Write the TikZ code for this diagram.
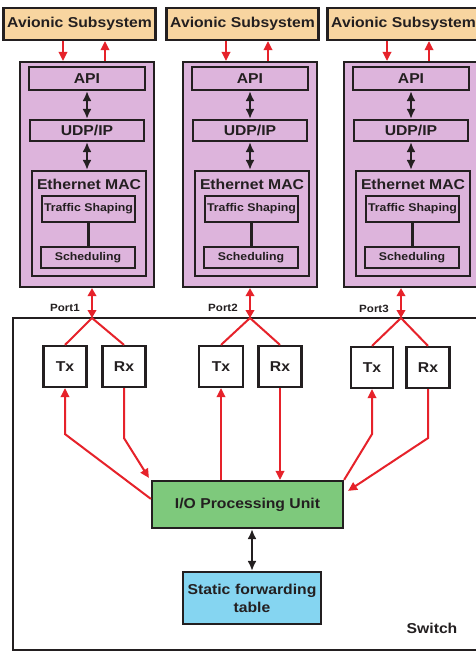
\documentclass[tikz,border=0pt]{standalone}
\usepackage{fontspec}
\setmainfont{Liberation Sans}[FakeStretch=1.1]
\usetikzlibrary{arrows.meta,calc}
\definecolor{avi}{HTML}{F8D5A0}
\definecolor{pur}{HTML}{DDB4DC}
\definecolor{grn}{HTML}{7EC97C}
\definecolor{blu}{HTML}{85D5F1}
\definecolor{rd}{HTML}{E6222A}
\definecolor{dk}{HTML}{231F20}
\begin{document}
\begin{tikzpicture}[x=1pt,y=-1pt,
  bx/.style={draw=dk, line width=2.2pt, inner sep=0pt, text=dk, align=center, font=\bfseries\fontsize{14.3}{18}\selectfont},
  sm/.style={font=\bfseries\fontsize{11.2}{13}\selectfont},
  lbl/.style={text=dk, inner sep=0pt, font=\bfseries\fontsize{14.3}{16}\selectfont},
  plbl/.style={text=dk, inner sep=0pt, font=\bfseries\fontsize{10.5}{12}\selectfont},
  ra/.style={draw=rd, line width=2pt, -{Triangle[length=9pt,width=8.5pt]}},
  rda/.style={draw=rd, line width=2pt, {Triangle[length=8pt,width=8.5pt]}-{Triangle[length=8pt,width=8.5pt]}},
  rl/.style={draw=rd, line width=2pt},
  ba/.style={draw=dk, line width=2.6pt, {Latex[length=10pt,width=9pt]}-{Latex[length=10pt,width=9pt]}},
  bl/.style={draw=dk, line width=2.4pt}]
\useasboundingbox (0,0) rectangle (476,653);
\clip (0,0) rectangle (476,653);
\fill[white] (0,0) rectangle (476,653);

% switch enclosure
\node[bx, minimum width=477pt, minimum height=332pt] (sw) at (251.5,484) {};
\node[lbl] (swl) at (432,628) {Switch};

\foreach \i/\cx/\px/\py in {1/87/92/308, 2/250/250/308, 3/411/401/309}{
  \node[bx, fill=avi, minimum width=152pt, minimum height=32pt] (avi\i) at (\cx-7.5,24) {Avionic Subsystem};
  \node[bx, fill=pur, minimum width=134pt, minimum height=225pt] (pur\i) at (\cx,174.5) {};
  \node[bx, fill=pur, minimum width=116pt, minimum height=23pt] (api\i) at (\cx,78.5) {API};
  \node[bx, fill=pur, minimum width=114pt, minimum height=21pt] (udp\i) at (\cx,130.5) {UDP/IP};
  \node[bx, fill=pur, minimum width=114pt, minimum height=105pt] (eth\i) at (\cx+2,223.5) {};
  \node[lbl] (ethl\i) at (\cx+2,184) {Ethernet MAC};
  \node[bx, sm, fill=pur, minimum width=93pt, minimum height=26pt] (ts\i) at (\cx+1.5,209) {Traffic Shaping};
  \node[bx, sm, fill=pur, minimum width=94pt, minimum height=21pt] (sc\i) at (\cx+1,257.5) {Scheduling};
  \draw[ba] (api\i.south) -- (udp\i.north);
  \draw[ba] (udp\i.south) -- (udp\i.south |- eth\i.north);
  \draw[bl] (ts\i.south) -- (ts\i.south |- sc\i.north);
  \coordinate (dn\i) at ($(pur\i.north)+(-24,0)$);
  \coordinate (up\i) at ($(pur\i.north)+(18,0)$);
  \draw[ra] (dn\i |- avi\i.south) -- (dn\i);
  \draw[ra] (up\i) -- (up\i |- avi\i.south);
  \coordinate (p\i) at (\px,318);
  \draw[rda] (pur\i.south -| p\i) -- (p\i);
  \node[plbl] (pl\i) at (\px-27,\py) {Port\i};
}

% Tx / Rx
\node[bx, minimum width=43pt, minimum height=41pt] (tx1) at (65,366.5) {Tx};
\node[bx, minimum width=43pt, minimum height=41pt] (rx1) at (124,366.5) {Rx};
\node[bx, minimum width=44pt, minimum height=41pt] (tx2) at (221,366.5) {Tx};
\node[bx, minimum width=43pt, minimum height=41pt] (rx2) at (280,366.5) {Rx};
\node[bx, minimum width=42pt, minimum height=41pt] (tx3) at (372,367.5) {Tx};
\node[bx, minimum width=43pt, minimum height=41pt] (rx3) at (428,367.5) {Rx};

\foreach \i in {1,2,3}{
  \draw[rl] (tx\i.north) -- (p\i) -- (rx\i.north);
}

% I/O and table
\node[bx, fill=grn, minimum width=191pt, minimum height=47pt] (io) at (247.5,504.5) {I/O Processing Unit};
\node[bx, fill=blu, minimum width=138pt, minimum height=52pt, text width=134pt] (sft) at (252,598) {Static forwarding\\table};
\draw[ba] (sft.north) -- (sft.north |- io.south);

% connections to I/O
\coordinate (t1b) at ($(tx1.south)+(0,46)$);
\coordinate (r1b) at ($(rx1.south)+(0,50)$);
\coordinate (t3b) at ($(tx3.south)+(0,45)$);
\coordinate (r3b) at ($(rx3.south)+(0,49)$);
\draw[ra] ($(io.north west)+(0,19)$) -- (t1b) -- (tx1.south);
\draw[ra] (rx1.south) -- (r1b) -- ($(io.north west)+(-2,-2)$);
\draw[ra] (tx2.south |- io.north) -- (tx2.south);
\draw[ra] (rx2.south) -- (rx2.south |- io.north);
\draw[ra] (io.north east) -- (t3b) -- (tx3.south);
\draw[ra] (rx3.south) -- (r3b) -- ($(io.north east)+(4,11)$);
\end{tikzpicture}
\end{document}
